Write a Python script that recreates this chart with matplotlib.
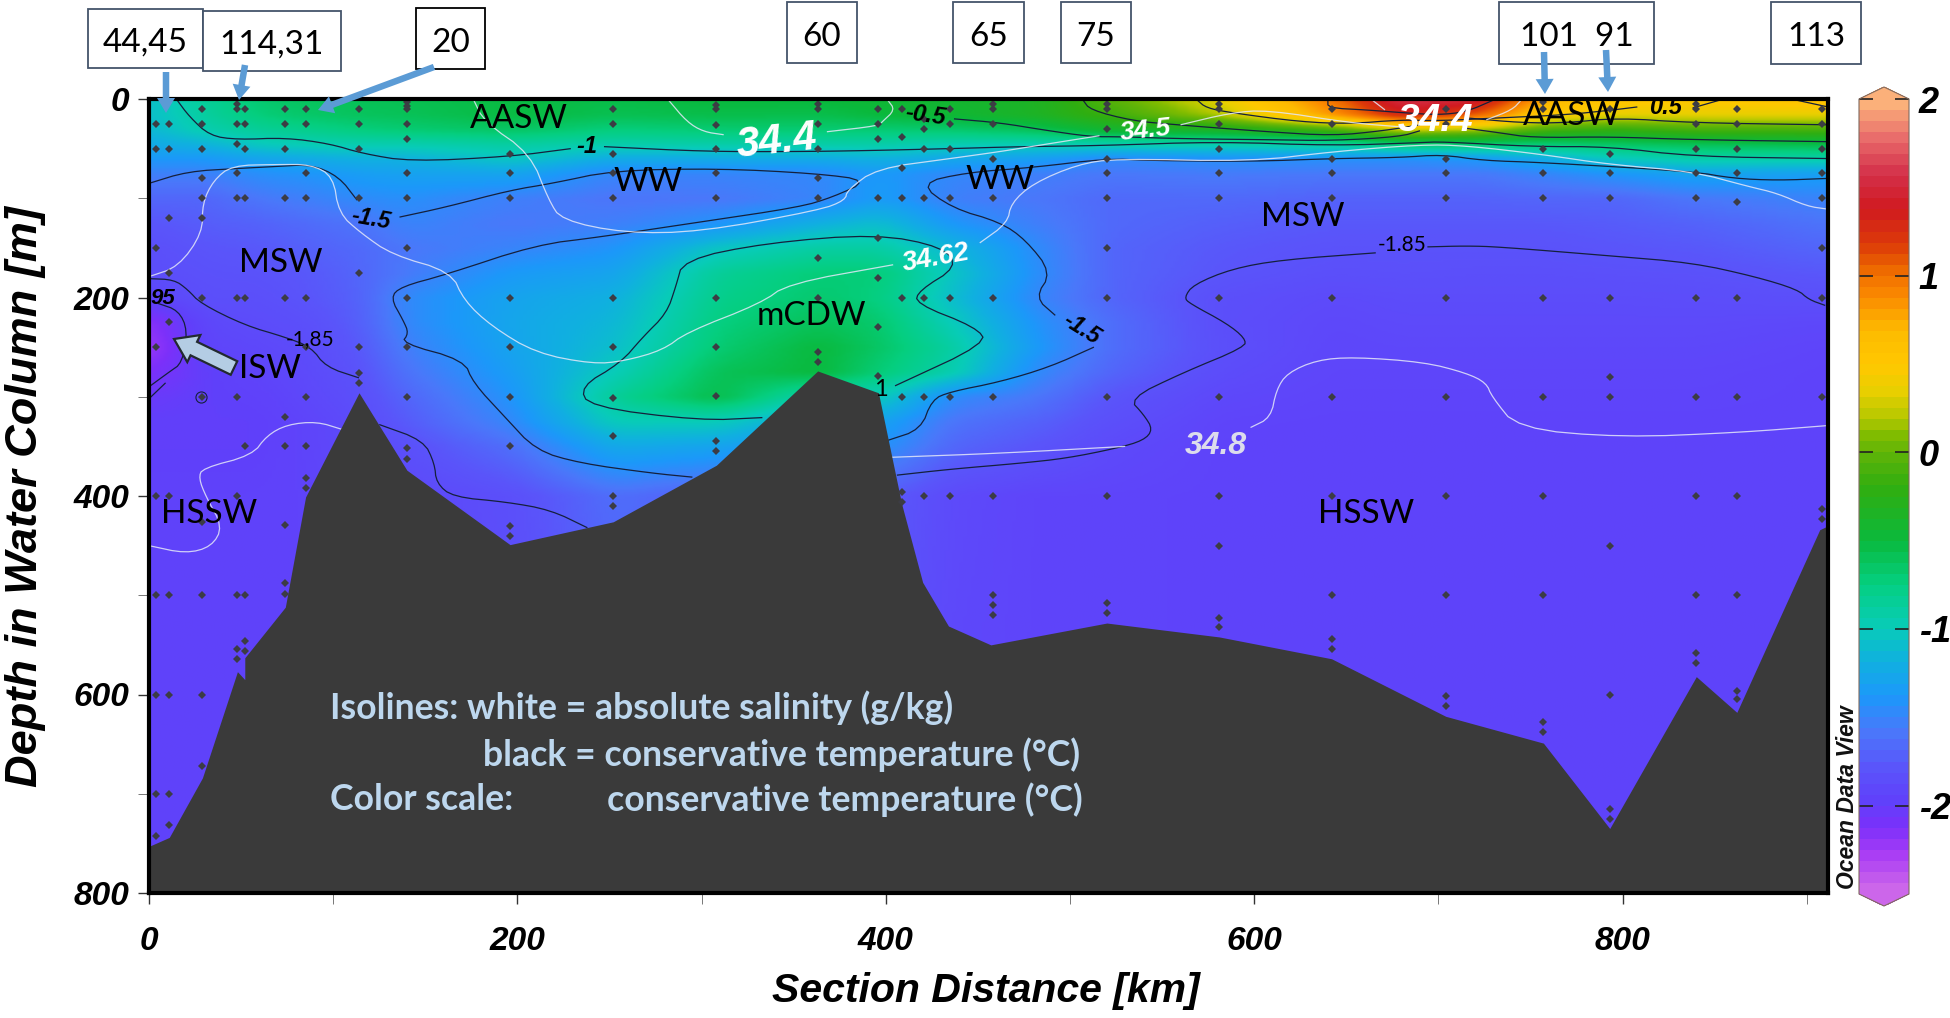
import numpy as np
import matplotlib
matplotlib.use('Agg')
import matplotlib.pyplot as plt
from matplotlib.colors import LinearSegmentedColormap, Normalize
from matplotlib.cm import ScalarMappable
from matplotlib.patches import Rectangle, FancyArrow

# temperature, one list per section distance
field_km = [0, 30, 60, 85, 114, 140, 196, 252, 308, 363, 396, 435, 480, 520, 581, 642, 680, 720, 757, 793, 840, 911.5]
field_m = [0, 15, 30, 45, 60, 75, 100, 125, 150, 175, 200, 225, 250, 275, 300, 325, 350, 400, 800]
temp_columns = [
    [-1.1, -1.1, -1.15, -1.25, -1.4, -1.55, -1.7, -1.8, -1.85, -1.87, -1.95, -2.2, -2.25, -2.15, -2.05, -2.0, -2.0, -1.98, -1.98],
    [-0.85, -0.88, -0.95, -1.18, -1.4, -1.55, -1.7, -1.75, -1.8, -1.83, -1.85, -1.92, -1.95, -2.0, -2.0, -2.0, -2.0, -1.98, -1.98],
    [-0.68, -0.72, -0.85, -1.02, -1.3, -1.45, -1.6, -1.72, -1.78, -1.82, -1.85, -1.88, -1.92, -1.95, -1.98, -2.0, -2.0, -1.98, -1.98],
    [-0.62, -0.66, -0.8, -0.98, -1.25, -1.42, -1.55, -1.67, -1.73, -1.78, -1.8, -1.85, -1.88, -1.9, -1.92, -1.95, -1.95, -1.96, -1.96],
    [-0.6, -0.62, -0.74, -0.96, -1.2, -1.35, -1.48, -1.62, -1.68, -1.7, -1.72, -1.74, -1.78, -1.82, -1.85, -1.88, -1.9, -1.95, -1.96],
    [-0.58, -0.6, -0.7, -0.96, -1.2, -1.32, -1.45, -1.52, -1.6, -1.58, -1.48, -1.49, -1.55, -1.62, -1.7, -1.76, -1.84, -1.92, -1.96],
    [-0.52, -0.52, -0.64, -0.9, -1.05, -1.3, -1.55, -1.6, -1.52, -1.38, -1.3, -1.28, -1.3, -1.35, -1.42, -1.5, -1.65, -1.85, -1.95],
    [-0.55, -0.58, -0.74, -0.95, -1.25, -1.52, -1.62, -1.55, -1.42, -1.3, -1.2, -1.15, -1.1, -1.0, -0.85, -1.0, -1.25, -1.65, -1.95],
    [-0.5, -0.55, -0.7, -0.93, -1.25, -1.52, -1.6, -1.42, -1.05, -0.85, -0.8, -0.75, -0.7, -0.6, -0.55, -1.0, -1.3, -1.75, -1.95],
    [-0.5, -0.56, -0.7, -0.93, -1.25, -1.5, -1.52, -1.2, -0.9, -0.72, -0.68, -0.6, -0.5, -0.5, -1.0, -1.3, -1.5, -1.8, -1.95],
    [-0.45, -0.5, -0.7, -0.93, -1.2, -1.38, -1.35, -1.1, -0.9, -0.72, -0.75, -0.68, -0.65, -0.72, -1.0, -1.3, -1.42, -1.75, -1.95],
    [-0.42, -0.45, -0.68, -0.98, -1.28, -1.5, -1.55, -1.4, -1.15, -1.05, -1.1, -1.0, -0.9, -0.95, -1.48, -1.62, -1.7, -1.9, -1.95],
    [-0.35, -0.35, -0.6, -0.98, -1.35, -1.55, -1.6, -1.55, -1.47, -1.45, -1.5, -1.42, -1.38, -1.48, -1.6, -1.72, -1.8, -1.95, -1.95],
    [-0.05, -0.15, -0.42, -0.95, -1.5, -1.6, -1.68, -1.68, -1.7, -1.7, -1.7, -1.65, -1.65, -1.7, -1.8, -1.85, -1.9, -1.95, -1.95],
    [0.35, 0.2, -0.35, -0.95, -1.45, -1.58, -1.68, -1.74, -1.78, -1.8, -1.85, -1.86, -1.85, -1.88, -1.92, -1.95, -1.96, -1.96, -1.96],
    [1.0, 0.85, -0.1, -0.9, -1.45, -1.6, -1.72, -1.78, -1.82, -1.85, -1.9, -1.92, -1.93, -1.94, -1.95, -1.96, -1.96, -1.96, -1.96],
    [1.6, 1.35, 0.3, -0.7, -1.45, -1.6, -1.72, -1.78, -1.82, -1.84, -1.88, -1.9, -1.92, -1.94, -1.95, -1.96, -1.96, -1.96, -1.96],
    [1.5, 1.1, 0.2, -0.7, -1.4, -1.6, -1.72, -1.78, -1.82, -1.85, -1.88, -1.9, -1.92, -1.94, -1.95, -1.96, -1.96, -1.96, -1.96],
    [0.75, 0.5, -0.1, -0.72, -1.25, -1.52, -1.7, -1.78, -1.82, -1.85, -1.88, -1.9, -1.92, -1.94, -1.95, -1.96, -1.96, -1.96, -1.96],
    [0.55, 0.35, -0.2, -0.65, -1.05, -1.42, -1.7, -1.76, -1.8, -1.84, -1.88, -1.9, -1.92, -1.94, -1.95, -1.96, -1.96, -1.96, -1.96],
    [0.5, 0.35, -0.1, -0.6, -0.95, -1.3, -1.6, -1.72, -1.78, -1.83, -1.87, -1.9, -1.92, -1.94, -1.95, -1.96, -1.96, -1.96, -1.96],
    [0.6, 0.35, -0.1, -0.55, -0.95, -1.35, -1.52, -1.62, -1.7, -1.78, -1.85, -1.92, -1.95, -1.96, -1.96, -1.96, -1.96, -1.96, -1.96],
]

# colour bar stops
cbar_values = [-2.5, -2.3, -2.15, -2.0, -1.8, -1.6, -1.4, -1.2, -1.0, -0.75, -0.5, -0.2, 0.0, 0.1, 0.2, 0.35, 0.5, 0.7, 0.9, 1.05, 1.2, 1.4, 1.6, 1.8, 2.0]
cbar_colors = ['#cc66ea', '#a83cf5', '#7c30fa', '#6040fa', '#5a55fa', '#4a78fa', '#1c98fa', '#10b0e0', '#08ccb8',
               '#05cf80', '#0ab93c', '#30ae10', '#60b408', '#80bc00', '#b5c800', '#e8cf00', '#ffc800', '#fdbb00',
               '#fb8a00', '#ee6a00', '#dc3a08', '#d01a20', '#d4304a', '#e86a6a', '#fbb07a']
cbar_ticks = [-2, -1, 0, 1, 2]

# sea floor
bathy_km = [0, 11, 29, 48, 52, 52, 74, 85, 114, 140, 196, 252, 308, 363, 396, 408.6, 420, 434, 457, 520, 581, 642, 704, 757, 793, 840, 862, 907, 911.5]
bathy_m = [753, 744, 684, 577, 585, 563, 512, 401, 296, 374, 449, 426, 369, 274, 296, 408, 487, 531, 550, 528, 542, 564, 622, 649, 735, 582, 618, 434, 430]

# stations and their sample depths
station_km = [3.8, 11, 29, 48, 52, 74, 85, 114, 140, 196, 252, 308, 363, 396, 408.6, 421, 435, 458, 520, 581, 642, 704, 757, 793, 840, 862, 908]
station_depths = [
    [25, 50, 150, 250, 400, 500, 600, 700, 743],
    [25, 50, 120, 175, 225, 400, 500, 600, 700, 731],
    [10, 25, 50, 80, 100, 120, 200, 300, 426, 500, 600, 672],
    [5, 10, 25, 45, 75, 100, 200, 300, 400, 500, 554, 564],
    [10, 25, 50, 100, 200, 350, 500, 546, 556],
    [10, 25, 50, 100, 200, 320, 350, 429, 488, 499],
    [10, 25, 75, 100, 200, 250, 300, 350, 382, 392],
    [10, 25, 50, 100, 175, 250, 276, 286],
    [3, 7, 10, 25, 40, 75, 100, 150, 200, 250, 300, 352, 363],
    [55, 75, 100, 200, 250, 300, 350, 430, 440],
    [10, 25, 55, 75, 100, 200, 250, 301, 340, 400, 410],
    [6, 10, 26, 50, 75, 100, 200, 250, 299, 345, 355],
    [5, 10, 25, 50, 80, 100, 160, 200, 255, 265],
    [10, 25, 40, 100, 140, 180, 230, 279],
    [10, 38, 70, 100, 200, 300, 396, 406],
    [20, 30, 50, 100, 200, 300, 400],
    [10, 25, 50, 100, 200, 300, 400],
    [5, 10, 25, 60, 100, 200, 300, 400, 500, 510, 520],
    [5, 10, 30, 60, 75, 100, 150, 200, 300, 400, 508, 518],
    [5, 10, 25, 50, 75, 100, 200, 300, 400, 450, 523, 532],
    [10, 25, 60, 75, 100, 200, 300, 400, 500, 544, 554],
    [10, 25, 60, 75, 100, 200, 300, 400, 500, 602, 612],
    [3, 10, 50, 75, 100, 200, 300, 400, 500, 628, 638],
    [10, 55, 75, 100, 200, 280, 300, 450, 600, 715, 725],
    [5, 10, 25, 50, 75, 100, 200, 300, 400, 500, 558, 568],
    [10, 25, 50, 75, 104, 200, 300, 400, 500, 596, 605],
    [10, 25, 50, 75, 100, 150, 200, 300, 413, 423],
]

# black isolines, conservative temperature (km, m)
iso_t_m1 = [(14.8, 0), (22, 18), (33, 37), (48, 41), (74, 39), (98, 45), (116, 55), (142, 63), (196, 58), (229, 50)]
iso_t_m1b = [(247, 48), (303, 53), (353, 53), (390, 52), (435, 50), (473, 48), (516, 47), (580, 43), (643, 47), (690, 44), (702, 43), (751, 48), (793, 48), (838, 58), (911.5, 60)]
iso_t_m05 = [(437, 20), (462, 24), (485, 31), (511, 38), (527, 38), (560, 40), (607, 41), (643, 42), (679, 38), (690, 32)]
iso_t_m05b = [(713, 29), (733, 34), (751, 39), (793, 38), (838, 41), (911.5, 43)]
iso_t_0 = [(507, 1), (511, 11), (534, 22), (558, 26), (607, 33), (643, 37), (670, 32), (690, 26)]
iso_t_0b = [(715, 19), (745, 24), (770, 24), (797, 19), (838, 24), (911.5, 26)]
iso_t_05 = [(569, 1), (574, 9), (588, 14), (625, 23), (652, 25), (679, 21), (700, 22), (733, 19), (769, 16), (795, 11), (808, 8)]
iso_t_05b = [(838, 9), (853, 1)]
iso_t_05c = [(894, 1), (911.5, 8)]
iso_t_1a = [(640, 1), (640, 9), (661, 11), (682, 14), (700, 16), (715, 13), (730, 1)]
iso_t_m15a = [(0, 85), (21, 73), (48, 70), (69, 68), (88, 66), (103, 78), (113, 102)]
iso_t_m15b = [(136, 119), (161, 109), (196, 92), (219, 85), (252, 72), (309, 70), (362, 75), (391, 82), (371, 99), (353, 109), (299, 124), (245, 139), (210, 147), (161, 177), (137, 189), (131, 200), (138, 223), (141, 236), (137, 246), (171, 263), (176, 286), (193, 320), (210, 354), (234, 367), (273, 377), (295, 381)]
iso_t_m15c = [(401, 344), (419, 333), (425, 303), (435, 295), (462, 285), (489, 270), (513, 250)]
iso_t_m15d = [(492, 218), (481, 200), (490, 175), (476, 142), (462, 124), (436, 110), (418, 85), (444, 74), (480, 69), (520, 60), (543, 62), (598, 63), (643, 60), (679, 59), (702, 56), (724, 62), (757, 64), (838, 73), (860, 80), (884, 82), (911.5, 80)]
iso_t_m10c = [(405, 289), (455, 246), (449, 230), (416, 206), (418, 193), (439, 169), (431, 149), (395, 136), (335, 145), (290, 162), (286, 189), (281, 216), (268, 240), (256, 266), (234, 290), (239, 310), (299, 324), (333, 321)]
iso_t_m185a = [(0, 181), (13.6, 182), (21, 192), (28, 206), (52, 228), (74, 240), (88, 250), (96, 270), (114, 281)]
iso_t_m185b = [(125, 328), (149, 344), (155, 367), (156, 387), (165, 401), (194, 406), (218, 414), (238, 432)]
iso_t_m185c = [(406, 379), (435, 373), (473, 367), (498, 362), (525, 352), (540, 344), (545, 333), (540, 318), (532, 302), (561, 276), (595, 250), (595, 241), (585, 226), (565, 206), (562, 200), (567, 187), (588, 171), (615, 162), (666, 155)]
iso_t_m185d = [(694, 149), (715, 148), (733, 149), (793, 158), (838, 165), (872, 179), (895, 192), (901, 202), (910, 208)]
iso_t_m195 = [(5, 206), (16, 213), (21, 233), (18, 266), (11, 275), (0, 290)]
iso_t_m2 = [(9, 286), (0, 302)]

# white isolines, absolute salinity (km, m)
iso_s_a = [(0, 179), (16, 169), (29, 135), (29, 105), (35, 82), (45, 67), (69, 66), (88, 66), (100, 78), (103, 115), (115, 135), (132, 157), (164, 174), (171, 203), (186, 229), (210, 256), (241, 267), (258, 264), (279, 253), (292, 235), (332, 206), (347, 186), (404, 167)]
iso_s_b = [(451, 145), (466, 125), (468, 105), (480, 85), (504, 66), (525, 60), (598, 63), (643, 53), (690, 46), (715, 47), (757, 56), (793, 66), (838, 73), (868, 88), (884, 95), (900, 108), (911.5, 111)]
iso_s_c = [(176, 0), (182, 23), (207, 55), (217, 102), (224, 122), (258, 135), (299, 134), (364, 112), (378, 102), (379, 92), (395, 70), (435, 60), (462, 53), (482, 47), (516, 37)]
iso_s_d = [(560, 26), (587, 14), (607, 11), (652, 24), (679, 28)]
iso_s_e = [(282, 1), (292, 23), (301, 33), (312, 36)]
iso_s_f = [(368, 33), (396, 27), (398, 23), (405, 11), (401, 1)]
iso_s_g = [(664, 1), (671, 11)]
iso_s_h = [(726, 21), (740, 11), (745, 1)]
iso_s_i = [(403, 361), (462, 357), (530, 350)]
iso_s_j = [(598, 331), (609, 321), (612, 293), (618, 276), (634, 263), (654, 260), (692, 265), (715, 276), (726, 286), (729, 300), (743, 332), (799, 341), (864, 336), (911.5, 329)]
iso_s_k = [(105, 333), (91, 325), (75, 328), (64, 339), (56, 359), (29, 372), (27, 382), (31, 401), (40, 431), (34, 451), (20, 458), (0, 450)]

black_lines = [iso_t_m1, iso_t_m1b, iso_t_m05, iso_t_m05b, iso_t_0, iso_t_0b, iso_t_05, iso_t_05b, iso_t_05c, iso_t_1a,
               iso_t_m15a, iso_t_m15b, iso_t_m15c, iso_t_m15d, iso_t_m10c, iso_t_m185a, iso_t_m185b, iso_t_m185c,
               iso_t_m185d, iso_t_m195, iso_t_m2]
white_lines = [iso_s_a, iso_s_b, iso_s_c, iso_s_d, iso_s_e, iso_s_f, iso_s_g, iso_s_h, iso_s_i, iso_s_j, iso_s_k]

water_labels = ['AASW', 'WW', 'WW', 'MSW', 'MSW', 'mCDW', 'ISW', 'HSSW', 'HSSW', 'AASW']
water_label_px = [(519, 119), (648, 182), (1000, 180), (281, 263), (1303, 217), (811, 316), (270, 369), (209, 514), (1366, 514), (1572, 116)]

box_labels = ['44,45', '114,31', '20', '60', '65', '75', '101  91', '113']
box_px = [(88, 9, 203, 68), (203, 11, 341, 71), (416, 8, 485, 69), (787, 2, 857, 63), (953, 2, 1024, 63), (1061, 2, 1131, 63), (1499, 2, 1654, 64), (1771, 2, 1861, 64)]
box_edges = ['#44546a', '#44546a', 'black', '#44546a', '#44546a', '#44546a', '#44546a', '#44546a']

arrow_px = [(166, 72, 166, 113), (245, 65, 239, 100), (434, 67, 318, 110), (1544, 52, 1545, 94), (1606, 50, 1608, 92)]


def smooth_line(points, rounds=2):
    p = np.array(points, dtype=float)
    for _ in range(rounds):
        q = 0.75 * p[:-1] + 0.25 * p[1:]
        r = 0.25 * p[:-1] + 0.75 * p[1:]
        mid = np.empty((2 * len(q), 2))
        mid[0::2] = q
        mid[1::2] = r
        p = np.vstack([p[:1], mid, p[-1:]])
    return p


def blur(a, n, axis):
    k = np.ones(n) / n
    pad = [(0, 0), (0, 0)]
    pad[axis] = (n // 2, n // 2)
    b = np.pad(a, pad, mode='edge')
    return np.apply_along_axis(lambda v: np.convolve(v, k, mode='valid'), axis, b)


W, H = 1950, 1018
fig = plt.figure(figsize=(W / 100, H / 100), dpi=100, facecolor='white')
ax = fig.add_axes([149 / W, 1 - 893 / H, (1828 - 149) / W, (893 - 99) / H])

cmap = LinearSegmentedColormap.from_list(
    'odv', [((v + 2.5) / 4.5, c) for v, c in zip(cbar_values, cbar_colors)], N=512)
norm = Normalize(-2.5, 2)

# resample the table on a fine grid so the colour gradient follows the colormap
temp = np.array(temp_columns)
grid_km = np.arange(0, 912, 2.0)
grid_m = np.arange(0, 802, 2.0)
by_m = np.array([np.interp(grid_m, field_m, col) for col in temp])
grid = np.array([np.interp(grid_km, field_km, by_m[:, j]) for j in range(len(grid_m))])
grid = blur(blur(grid, 11, 1), 3, 0)
ax.imshow(grid, extent=[0, 911.5, 800, 0], aspect='auto', cmap=cmap, norm=norm, interpolation='bilinear', zorder=1)

for line in black_lines:
    p = smooth_line(line)
    ax.plot(p[:, 0], p[:, 1], color='#15203c', lw=0.9, zorder=3, solid_capstyle='butt')
for line in white_lines:
    p = smooth_line(line)
    ax.plot(p[:, 0], p[:, 1], color='#e4e8f8', lw=0.9, alpha=0.85, zorder=3, solid_capstyle='butt')
ax.plot([28], [300], marker='o', ms=8, mfc='none', mec='#15203c', mew=0.8, zorder=3)

ax.fill_between(bathy_km, bathy_m, 800, color='#3a3a3a', lw=0, zorder=4)
for km, depths in zip(station_km, station_depths):
    ax.plot([km] * len(depths), depths, ls='none', marker='D', ms=4.0, color='#3c3c44', mew=0, zorder=5, clip_on=True)

ax.set_xlim(0, 911.5)
ax.set_ylim(800, 0)
ax.set_xticks(np.arange(0, 901, 200))
ax.set_xticks(np.arange(100, 901, 200), minor=True)
ax.set_yticks(np.arange(0, 801, 200))
ax.set_yticks(np.arange(100, 701, 200), minor=True)
ax.tick_params(which='major', length=8, width=1.0, color='#333333')
ax.tick_params(which='minor', length=8, width=0.7, color='#777777')
ax.tick_params(axis='x', which='major', pad=16)
ax.tick_params(axis='y', which='major', pad=6)
label_font = dict(family='Liberation Sans', weight='bold', style='italic')
for t in ax.get_xticklabels() + ax.get_yticklabels():
    t.set(fontsize=24, **label_font)
for s in ax.spines.values():
    s.set_linewidth(3.0)
    s.set_zorder(8)

cax = fig.add_axes([1859 / W, 1 - 906 / H, 50 / W, 819 / H])
cb_cmap = LinearSegmentedColormap.from_list(
    'odv64', [((v + 2.5) / 4.5, c) for v, c in zip(cbar_values, cbar_colors)], N=72)
cb_cmap.set_under('#cc66ea')
cb_cmap.set_over('#fbb07a')
cb = fig.colorbar(ScalarMappable(norm=norm, cmap=cb_cmap), cax=cax, extend='both', extendfrac=12 / 795, ticks=cbar_ticks)
cb.outline.set_linewidth(0.8)
cb.outline.set_edgecolor('#806a60')
cax.tick_params(length=10, width=1.2, direction='in', left=True, right=True, color='#222222', pad=7)
cax.set_yticklabels(['-2', '-1', '0', '1', '2'], fontsize=26, **label_font)

# overlay in pixel coordinates for the hand drawn annotations
ov = fig.add_axes([0, 0, 1, 1], facecolor='none', zorder=10)
ov.set_xlim(0, W)
ov.set_ylim(H, 0)
ov.axis('off')

ov.text(986, 991, 'Section Distance [km]', ha='center', va='center', fontsize=29.5, **label_font)
ov.text(26, 497, 'Depth in Water Column [m]', ha='center', va='center', rotation=90, fontsize=32.5, **label_font)
ov.text(1847, 797, 'Ocean Data View', ha='center', va='center', rotation=90, fontsize=16.5, color='#111111', **label_font)

for name, (x, y) in zip(water_labels, water_label_px):
    ov.text(x, y, name, ha='center', va='center', fontsize=24, family='Lato', color='black')

for name, (x0, y0, x1, y1), edge in zip(box_labels, box_px, box_edges):
    ov.add_patch(Rectangle((x0, y0), x1 - x0, y1 - y0, fc='white', ec=edge, lw=1.3))
    ov.text((x0 + x1) / 2, (y0 + y1) / 2 + 4, name, ha='center', va='center', fontsize=24, family='Lato', color='black')

for x0, y0, x1, y1 in arrow_px:
    ov.add_patch(FancyArrow(x0, y0, x1 - x0, y1 - y0, width=6.5, head_width=18, head_length=15,
                            length_includes_head=True, fc='#5b9bd5', ec='none'))
ov.add_patch(FancyArrow(234, 368, -60, -29, width=15, head_width=30, head_length=22,
                        length_includes_head=True, fc='#b4cde4', ec='#222a30', lw=1.6))

# isoline labels
iso_labels = [
    ('34.4', 777, 142, 30, 'white', 6), ('34.5', 1146, 130, 19, 'white', 6), ('34.62', 936, 258, 19.5, 'white', 10),
    ('34.4', 1436, 121, 28, 'white', 0), ('34.8', 1216, 446, 23, '#dcdcec', 0),
    ('-1', 587, 146, 17, 'black', 0), ('-1.5', 371, 219, 16.5, 'black', -10), ('-1.5', 1082, 329, 16.5, 'black', -32),
    ('-0.5', 925, 115, 17, 'black', -8), ('0.5', 1665, 107, 17, 'black', 0), ('95', 163, 298, 16, 'black', 0),
]
for txt, x, y, size, col, rot in iso_labels:
    ov.text(x, y, txt, ha='center', va='center', fontsize=size, color=col, rotation=rot, **label_font)
ov.text(310, 339, '-1,85', ha='center', va='center', fontsize=15, family='Lato', color='black')
ov.text(1402, 245, '-1.85', ha='center', va='center', fontsize=15, family='Lato', color='black')
ov.text(881, 389, '1', ha='center', va='center', fontsize=17, family='Lato', color='black')

note = dict(fontsize=25.7, family='Lato', weight='bold', color='#bdd7ee', va='center')
ov.text(330, 708, 'Isolines: white = absolute salinity (g/kg)', **note)
ov.text(483, 755, 'black = conservative temperature (°C)', **note)
ov.text(330, 800, 'Color scale:', **note)
ov.text(607, 800, 'conservative temperature (°C)', **note)

fig.savefig('out.png', dpi=100)
